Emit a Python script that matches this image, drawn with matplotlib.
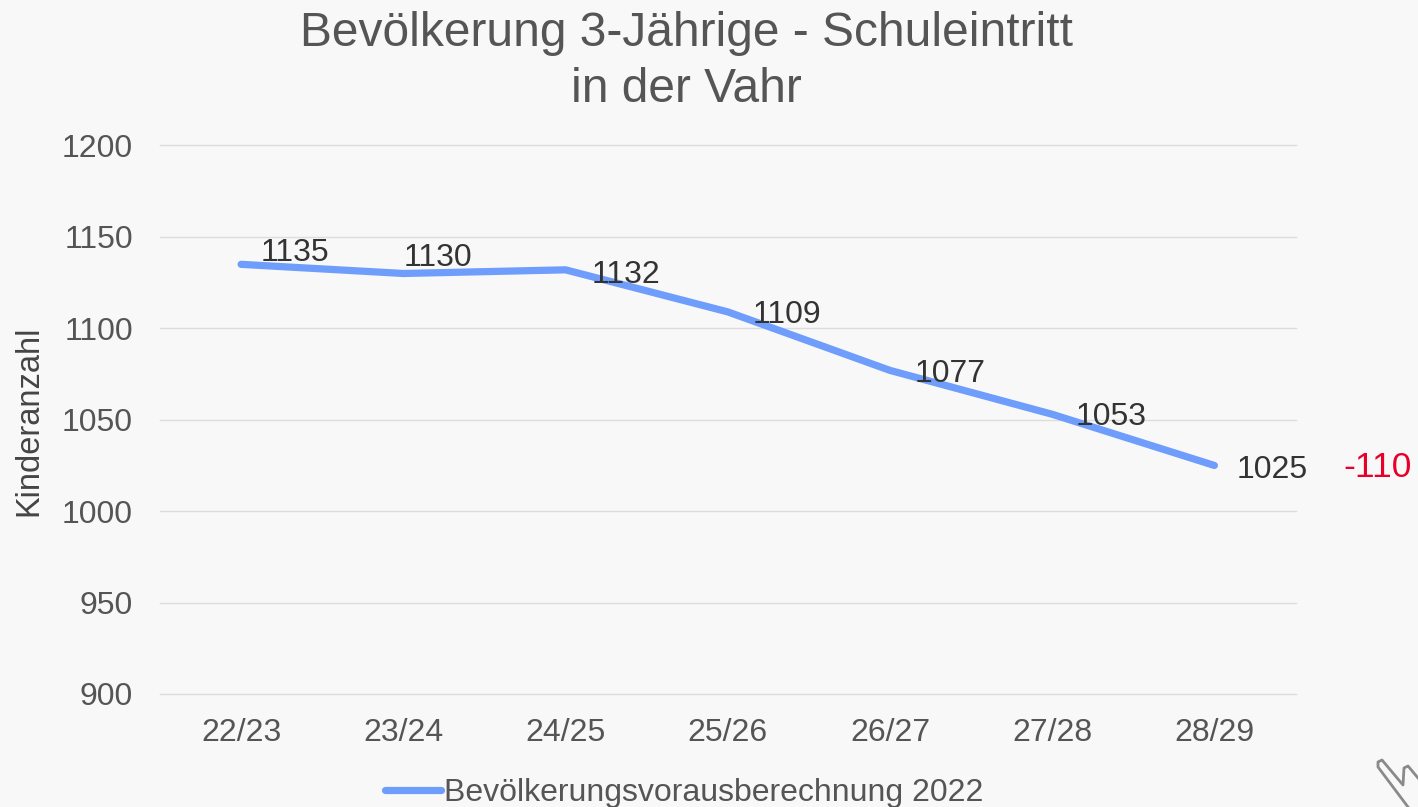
import matplotlib
matplotlib.use("Agg")
import matplotlib.pyplot as plt
from matplotlib.lines import Line2D

categories = ["22/23", "23/24", "24/25", "25/26", "26/27", "27/28", "28/29"]
values = [1135, 1130, 1132, 1109, 1077, 1053, 1025]
yticks = [900, 950, 1000, 1050, 1100, 1150, 1200]
title = "Bevölkerung 3-Jährige - Schuleintritt\nin der Vahr"
series_name = "Bevölkerungsvorausberechnung 2022"
ylabel = "Kinderanzahl"
delta = "-110"

plt.rcParams['font.family'] = ['Liberation Sans', 'DejaVu Sans']
W, H = 1418, 807
BG = "#f8f8f8"
fig = plt.figure(figsize=(W/100, H/100), dpi=100, facecolor=BG)
L, R, T, B = 160, 1295.5, 145.5, 694
ax = fig.add_axes([L/W, 1-B/H, (R-L)/W, (B-T)/H], facecolor=BG)
ax.set_xlim(-0.5, 6.5)
ax.set_ylim(900, 1200)
for s in ax.spines.values():
    s.set_visible(False)
ax.set_yticks(yticks)
ax.set_xticks(range(len(categories)))
ax.set_xticklabels(categories)
ax.tick_params(length=0, labelsize=23, labelcolor="#555555")
ax.tick_params(axis='x', pad=17)
ax.tick_params(axis='y', pad=19.5)
ax.grid(axis='y', color="#dddddd", lw=1)
for gl in ax.get_ygridlines():
    gl.set_clip_on(False)
ax.set_axisbelow(True)
line, = ax.plot(range(len(values)), values, color="#6e9dfb", lw=5.2, solid_capstyle='round', solid_joinstyle='round', label=series_name)
offs = [(54, 11), (35, 15), (60, -5), (59, -3), (60, -4), (59, -3), (58, -5)]
for i, (v, o) in enumerate(zip(values, offs)):
    ax.annotate(str(v), (i, v), xytext=o, textcoords='offset pixels', ha='center', va='center', fontsize=23, color="#333333")
ax.annotate(delta, (6, values[6]), xytext=(163, -2), textcoords='offset pixels', ha='center', va='center', fontsize=25.5, color="#e8002a")
fig.text(686/W, 1-61.5/H, title, ha='center', va='center', fontsize=34.5, color="#555555", linespacing=1.29)
fig.text(29/W, 1-420.5/H, ylabel, rotation=90, ha='center', va='center', fontsize=23.5, color="#444444")
fig.legend(handles=[line], loc='center', bbox_to_anchor=(684.5/W, 1-793/H), frameon=False, fontsize=23, labelcolor="#555555", handlelength=1.75, handletextpad=0.1, borderpad=0)
# cursor artefact in the bottom right corner of the screenshot
cx = [1418, 1408, 1404, 1403, 1382, 1378, 1378, 1408]
cy = [778, 766, 768, 785, 760, 762, 767, 807]
fig.add_artist(Line2D([x/W for x in cx], [1-y/H for y in cy], color="#8a8a8a", lw=2, transform=fig.transFigure))
fig.savefig("out.png", dpi=100, facecolor=BG)
